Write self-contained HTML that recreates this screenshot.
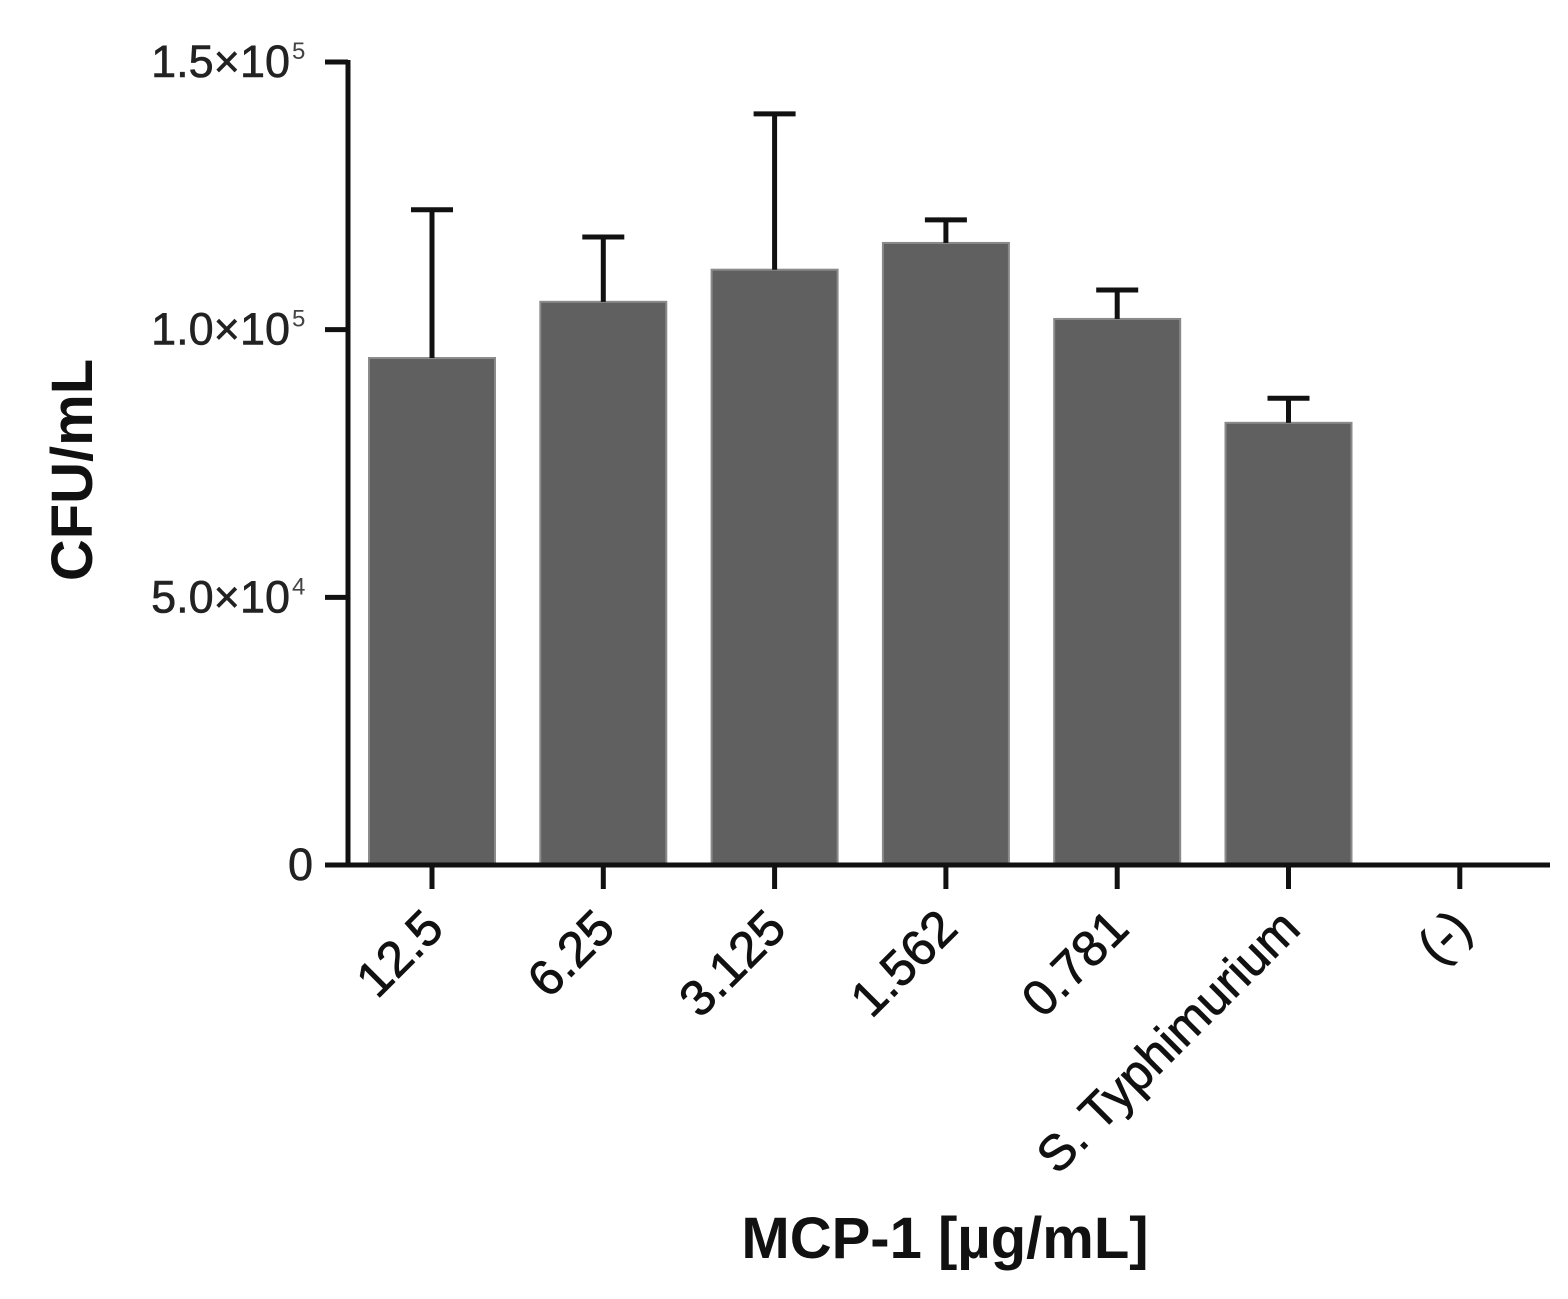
<!DOCTYPE html>
<html><head><meta charset="utf-8"><style>
html,body{margin:0;padding:0;background:#fff;}
svg{display:block;font-family:"Liberation Sans",Arial,sans-serif;}
</style></head><body>
<svg id="chart" width="1568" height="1299" viewBox="0 0 1568 1299">
<g id="bars"></g>
<g id="errs"></g>
<g id="axes"></g>
<text transform="translate(92,470) rotate(-90)" text-anchor="middle" font-size="58" font-weight="bold" fill="#111">CFU/mL</text>
<text x="945" y="1258" text-anchor="middle" font-size="58" font-weight="bold" fill="#111">MCP-1 [µg/mL]</text>
</svg>
<script>
const categories=["12.5","6.25","3.125","1.562","0.781","S. Typhimurium","(-)"];
const values=[94700,105200,111200,116200,102000,82600,0];
const errors=[27700,12100,29100,4300,5400,4600,0];
const yTicks=[0,50000,100000,150000];
const yTickMant=["0","5.0×10","1.0×10","1.5×10"];
const yTickExp=["","4","5","5"];
const NS="http://www.w3.org/2000/svg";
const y0=865,yTop=62,yMax=150000,x0=432,step=171.3,bw=126;
function y(v){return y0-(v/yMax)*(y0-yTop);}
function x(i){return x0+i*step;}
function mk(tag,attrs,parent){const e=document.createElementNS(NS,tag);for(const k in attrs)e.setAttribute(k,attrs[k]);parent.appendChild(e);return e;}
const bars=document.getElementById('bars'),errs=document.getElementById('errs'),axes=document.getElementById('axes');
categories.forEach((c,i)=>{
  if(values[i]>0){
    const r=mk('rect',{x:x(i)-bw/2,y:y(values[i]),width:bw,height:y0-y(values[i]),fill:'#606060',stroke:'#8a8a8a','stroke-width':2},bars);
    
    
  }
  if(errors[i]>0){
    const g=mk('g',{stroke:'#111','stroke-width':5},errs);
    
    
    mk('line',{x1:x(i),x2:x(i),y1:y(values[i]),y2:y(values[i]+errors[i])},g);
    mk('line',{x1:x(i)-21,x2:x(i)+21,y1:y(values[i]+errors[i]),y2:y(values[i]+errors[i])},g);
  }
  const t=mk('line',{x1:x(i),x2:x(i),y1:y0,y2:y0+24,stroke:'#111','stroke-width':5},axes);
  
  
  const lx=x(i)+14,ly=y0+66;
  const lab=mk('text',{x:lx,y:ly,transform:`rotate(-45 ${lx} ${ly})`,'text-anchor':'end','font-size':50,fill:'#111',stroke:'#111','stroke-width':0.8},axes);
  lab.textContent=c;
  
  
});
const ya=mk('line',{x1:348,x2:348,y1:yTop-2,y2:y0+2,stroke:'#111','stroke-width':5},axes);


const xa=mk('line',{x1:325,x2:1550,y1:y0,y2:y0,stroke:'#111','stroke-width':5},axes);


yTicks.forEach((v,i)=>{
  const t=mk('line',{x1:325,x2:348,y1:y(v),y2:y(v),stroke:'#111','stroke-width':5},axes);
  
  
  const l=mk('text',{x:yTickExp[i]?290:313,y:y(v)+15,'text-anchor':'end','font-size':45,fill:'#222',stroke:'#222','stroke-width':0.6},axes);
  l.textContent=yTickMant[i];
  
  
  if(yTickExp[i]){
    const s=mk('text',{x:292,y:y(v)-3,'font-size':24,fill:'#444'},axes);
    s.textContent=yTickExp[i];
    
    
  }
});
</script>
</body></html>
